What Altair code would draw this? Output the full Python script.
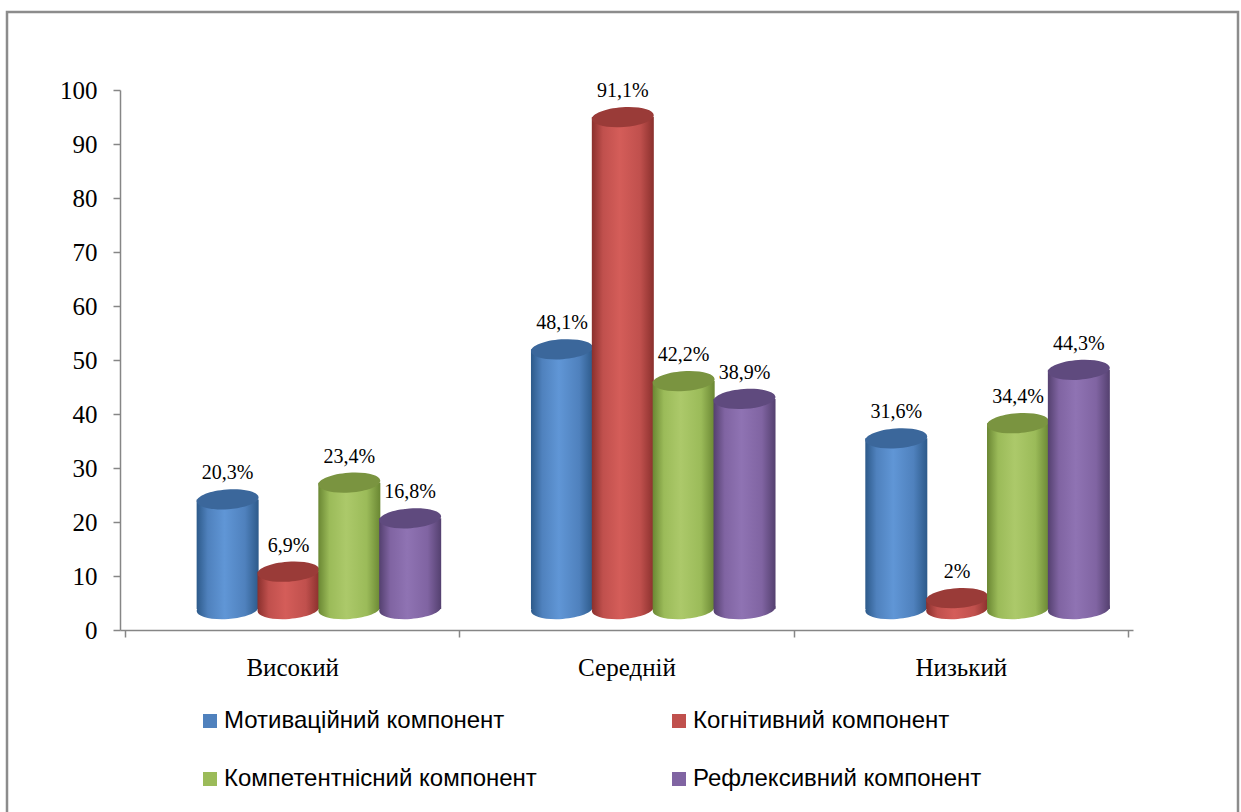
import json
import altair as alt
import pandas as pd

# Levels (x categories) and components (series)
CATEGORIES = ["Високий", "Середній", "Низький"]
SERIES = [
    "Мотиваційний компонент",
    "Когнітивний компонент",
    "Компетентнісний компонент",
    "Рефлексивний компонент",
]
# Percentages per component, in category order
MOTIV = [20.3, 48.1, 31.6]
COGN = [6.9, 91.1, 2.0]
COMPET = [23.4, 42.2, 34.4]
REFL = [16.8, 38.9, 44.3]
VALUES = [MOTIV, COGN, COMPET, REFL]

# Cylinder palette: (edge shade, base, highlight, top cap)
PALETTE = [
    ("#2d5a8a", "#4f81bd", "#6096d6", "#3b679b"),
    ("#8a302d", "#c0504d", "#d45d59", "#9a3b38"),
    ("#6a8733", "#9bbb59", "#acc96a", "#7a9440"),
    ("#54406f", "#8064a2", "#8f73b3", "#5f4a7e"),
]

W, H = 1013, 540
BAR_W = 62
LIFT = 21           # upward shift of the 3-D floor
GROUP_SHIFT = 0.58  # group centre inside each category (perspective)
STEP = 0.182        # spacing between neighbouring cylinders

ELLIPSE = "M -1 0 A 1 0.32 0 1 0 1 0 A 1 0.32 0 1 0 -1 0 Z"

rows = []
for s, (name, vals) in enumerate(zip(SERIES, VALUES)):
    for g, (cat, v) in enumerate(zip(CATEGORIES, vals)):
        rows.append({
            "category": cat,
            "series": name,
            "value": v,
            "xc": g + GROUP_SHIFT + (s - 1.5) * STEP,
            "label": f"{v:g}".replace(".", ",") + "%",
        })
df = pd.DataFrame(rows)

x_scale = alt.Scale(domain=[0, 3], nice=False, zero=False)
y_scale = alt.Scale(domain=[0, 100], nice=False)

label_expr = (
    "(datum.value * 2) % 2 == 1 ? "
    + json.dumps(CATEGORIES, ensure_ascii=False)
    + "[floor(datum.value)] : ''"
)

x_axis = alt.Axis(
    values=[0, 0.5, 1, 1.5, 2, 2.5, 3],
    labelExpr=label_expr,
    tickOpacity={"condition": {"test": "datum.value % 1 == 0", "value": 1}, "value": 0},
    labelOverlap=False,
    labelFlush=False,
    title=None,
    labelPadding=18,
)
y_axis = alt.Axis(
    values=list(range(0, 101, 10)),
    title=None,
    labelPadding=16,
)


def side_gradient(edge, base, light):
    return alt.LinearGradient(
        gradient="linear",
        x1=0, x2=1, y1=0, y2=0,
        stops=[
            alt.GradientStop(color=edge, offset=0),
            alt.GradientStop(color=base, offset=0.18),
            alt.GradientStop(color=light, offset=0.45),
            alt.GradientStop(color=base, offset=0.78),
            alt.GradientStop(color=edge, offset=1),
        ],
    )


base = alt.Chart(df)

# Outer frame around the whole figure
frame = alt.Chart(pd.DataFrame({"k": [0]})).mark_rect(
    fill=None, stroke="#8c8c8c", strokeWidth=2.5
).encode(
    x=alt.value(-113), x2=alt.value(1118), y=alt.value(-78), y2=alt.value(727)
)

# Axes carrier + legend (invisible squares)
legend_layer = base.mark_square(opacity=0, size=10).encode(
    x=alt.X("xc:Q", scale=x_scale, axis=x_axis),
    y=alt.Y("value:Q", scale=y_scale, axis=y_axis),
    color=alt.Color(
        "series:N",
        scale=alt.Scale(domain=SERIES, range=[p[1] for p in PALETTE]),
        legend=alt.Legend(
            title=None,
            orient="none",
            direction="horizontal",
            legendX=78,
            legendY=619,
            columns=2,
            columnPadding=130,
            rowPadding=34,
            symbolType="square",
            symbolSize=196,
            symbolOpacity=1,
            symbolStrokeWidth=0,
            labelFont="Liberation Sans",
            labelFontSize=24,
            labelColor="black",
            labelOffset=2,
            labelLimit=0,
        ),
    ),
)

layers = [frame, legend_layer]
for s, name in enumerate(SERIES):
    edge, col, light, top = PALETTE[s]
    grad = side_gradient(edge, col, light)
    sub = base.transform_filter(alt.datum.series == name)
    bottom_cap = sub.mark_point(
        shape=ELLIPSE, size=BAR_W * BAR_W, filled=True, fill=grad, opacity=1,
        strokeWidth=0, yOffset=-LIFT, angle=356,
    ).encode(x=alt.X("xc:Q", scale=x_scale), y=alt.datum(0))
    body = sub.mark_bar(
        width=BAR_W, fill=grad, yOffset=-LIFT, y2Offset=-LIFT, strokeWidth=0,
    ).encode(
        x=alt.X("xc:Q", scale=x_scale),
        y=alt.Y("value:Q", scale=y_scale),
        y2=alt.datum(0),
    )
    top_cap = sub.mark_point(
        shape=ELLIPSE, size=BAR_W * BAR_W, filled=True, fill=top, opacity=1,
        strokeWidth=0, yOffset=-LIFT, angle=356,
    ).encode(x=alt.X("xc:Q", scale=x_scale), y=alt.Y("value:Q", scale=y_scale))
    layers += [bottom_cap, body, top_cap]

labels = base.mark_text(
    font="Liberation Serif", fontSize=20, color="black", baseline="bottom", dy=-37,
).encode(
    x=alt.X("xc:Q", scale=x_scale),
    y=alt.Y("value:Q", scale=y_scale),
    text="label:N",
)
layers.append(labels)

chart = alt.layer(*layers).properties(
    width=W,
    height=H,
    autosize=alt.AutoSizeParams(type="none"),
    padding={"left": 120, "top": 90, "right": 108, "bottom": 182},
    background="white",
).configure_view(
    stroke=None
).configure_axis(
    grid=False,
    domainColor="#868686",
    domainWidth=1.5,
    tickColor="#868686",
    tickWidth=1.5,
    tickSize=7,
    labelFont="Liberation Serif",
    labelFontSize=25,
    labelColor="black",
).configure_text(
    font="Liberation Serif"
)

chart.save("out.html", embed_options={"renderer": "svg", "actions": False})
